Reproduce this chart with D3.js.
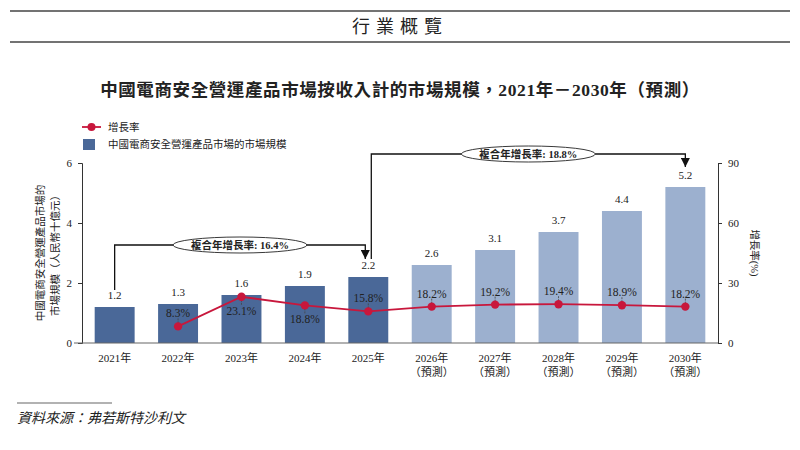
<!DOCTYPE html>
<html lang="zh-Hant">
  <head>
    <meta charset="utf-8">
    <script src="https://d3js.org/d3.v7.min.js"></script>
    <style>
      body {margin: 0; background: #fff;}
      text {font-family: "Liberation Serif", "Noto Sans CJK TC", serif; fill: #222;}
    </style>
  </head>
  <body>
    <script type="text/javascript">
      // chart data
      const years = ["2021年", "2022年", "2023年", "2024年", "2025年", "2026年", "2027年", "2028年", "2029年", "2030年"];
      const forecast = [false, false, false, false, false, true, true, true, true, true];
      const marketSize = [1.2, 1.3, 1.6, 1.9, 2.2, 2.6, 3.1, 3.7, 4.4, 5.2];
      const growthYears = ["2022年", "2023年", "2024年", "2025年", "2026年", "2027年", "2028年", "2029年", "2030年"];
      const growthRate = [8.3, 23.1, 18.8, 15.8, 18.2, 19.2, 19.4, 18.9, 18.2];
      const growthLabelBelow = [false, true, true, false, false, false, false, false, false];
      const leftTicks = [0, 2, 4, 6];
      const rightTicks = [0, 30, 60, 90];
      const cagrs = [
        {from: "2021年", to: "2025年", label: "複合年增長率: 16.4%"},
        {from: "2025年", to: "2030年", label: "複合年增長率: 18.8%"}
      ];

      const w = 800;
      const h = 450;
      const pLeft = 82, pRight = 718, pTop = 163, pBottom = 343;
      const darkBlue = "#4a6898";
      const lightBlue = "#9cb0cf";
      const red = "#c8173c";

      const svg = d3.select("body").append("svg")
          .attr("width", w)
          .attr("height", h);

      // header
      svg.append("line").attr("x1", 10).attr("x2", 790).attr("y1", 11).attr("y2", 11)
          .attr("stroke", "#444").attr("stroke-width", 1.3);
      svg.append("line").attr("x1", 10).attr("x2", 790).attr("y1", 42).attr("y2", 42)
          .attr("stroke", "#444").attr("stroke-width", 1.3);
      svg.append("text").attr("x", 400).attr("y", 33).attr("text-anchor", "middle")
          .style("font-size", "18px").style("letter-spacing", "6px")
          .text("行業概覽");

      // title
      svg.append("text").attr("x", 400).attr("y", 96).attr("text-anchor", "middle")
          .style("font-size", "17.5px").style("font-weight", "bold").style("letter-spacing", "0.6px")
          .text("中國電商安全營運產品市場按收入計的市場規模，2021年－2030年（預測）");

      // scales
      const x = d3.scaleBand().domain(years).range([pLeft, pRight]).paddingInner(0.37).paddingOuter(0.2);
      const yL = d3.scaleLinear().domain([0, 6]).range([pBottom, pTop]);
      const yR = d3.scaleLinear().domain([0, 90]).range([pBottom, pTop]);
      const cx = d => x(d) + x.bandwidth() / 2;

      // bars
      svg.selectAll("rect.bar")
          .data(marketSize)
          .enter()
          .append("rect")
          .attr("class", "bar")
          .attr("x", (d, i) => x(years[i]))
          .attr("y", d => yL(d))
          .attr("width", x.bandwidth())
          .attr("height", d => pBottom - yL(d))
          .attr("fill", (d, i) => forecast[i] ? lightBlue : darkBlue);

      svg.selectAll("text.val")
          .data(marketSize)
          .enter()
          .append("text")
          .attr("class", "val")
          .attr("x", (d, i) => cx(years[i]))
          .attr("y", d => yL(d) - 8)
          .attr("text-anchor", "middle")
          .style("font-size", "11px")
          .text(d => d.toFixed(1));

      // axes
      const axisL = svg.append("g").attr("transform", "translate(" + pLeft + ",0)")
          .call(d3.axisLeft(yL).tickValues(leftTicks).tickFormat(d3.format("d")).tickSize(4).tickPadding(6));
      const axisR = svg.append("g").attr("transform", "translate(" + pRight + ",0)")
          .call(d3.axisRight(yR).tickValues(rightTicks).tickFormat(d3.format("d")).tickSize(4).tickPadding(6));
      [axisL, axisR].forEach(function(g) {
        g.select(".domain").attr("stroke", "#333");
        g.selectAll(".tick line").attr("stroke", "#333");
        g.selectAll("text").style("font-size", "11px")
            .style("font-family", "'Liberation Serif', serif").attr("fill", "#222");
      });
      svg.append("line").attr("x1", 74).attr("x2", pRight).attr("y1", pBottom).attr("y2", pBottom)
          .attr("stroke", "#666").attr("stroke-width", 1.2);

      // x labels
      const xl = svg.selectAll("text.xl")
          .data(years)
          .enter()
          .append("text")
          .attr("class", "xl")
          .attr("x", d => cx(d))
          .attr("y", 362)
          .attr("text-anchor", "middle")
          .style("font-size", "11px");
      xl.append("tspan").attr("x", d => cx(d)).text(d => d);
      xl.filter((d, i) => forecast[i]).append("tspan")
          .attr("x", d => cx(d)).attr("dy", 14).text("（預測）");

      // growth line
      const line = d3.line()
          .x((d, i) => cx(growthYears[i]))
          .y(d => yR(d));
      svg.append("path").datum(growthRate)
          .attr("d", line)
          .attr("fill", "none")
          .attr("stroke", red)
          .attr("stroke-width", 1.8);

      // label ticks and labels
      svg.selectAll("line.gt")
          .data(growthRate)
          .enter()
          .append("line")
          .attr("class", "gt")
          .attr("x1", (d, i) => cx(growthYears[i]))
          .attr("x2", (d, i) => cx(growthYears[i]))
          .attr("y1", (d, i) => growthLabelBelow[i] ? yR(d) + 3 : yR(d) - 3)
          .attr("y2", (d, i) => growthLabelBelow[i] ? yR(d) + 8 : yR(d) - 8)
          .attr("stroke", "#444")
          .attr("stroke-width", 0.8)
          .attr("stroke-dasharray", "2,1");

      svg.selectAll("circle.gp")
          .data(growthRate)
          .enter()
          .append("circle")
          .attr("class", "gp")
          .attr("cx", (d, i) => cx(growthYears[i]))
          .attr("cy", d => yR(d))
          .attr("r", 4.2)
          .attr("fill", red);

      svg.selectAll("text.gl")
          .data(growthRate)
          .enter()
          .append("text")
          .attr("class", "gl")
          .attr("x", (d, i) => cx(growthYears[i]))
          .attr("y", (d, i) => growthLabelBelow[i] ? yR(d) + 18 : yR(d) - 9)
          .attr("text-anchor", "middle")
          .style("font-size", "11.5px")
          .text(d => d.toFixed(1) + "%");

      // CAGR brackets
      svg.append("defs").append("marker")
          .attr("id", "arrow")
          .attr("viewBox", "0 0 10 10")
          .attr("refX", 10).attr("refY", 5)
          .attr("markerWidth", 7).attr("markerHeight", 7)
          .attr("orient", "auto")
          .append("path").attr("d", "M0,0L10,5L0,10Z").attr("fill", "#111");

      const bracket = [
        {x1: cx(cagrs[0].from), y1: yL(1.2) - 17, yTop: 245, x2: cx(cagrs[0].to) - 3, y2: yL(2.2) - 18},
        {x1: cx(cagrs[1].from) + 3, y1: yL(2.2) - 18, yTop: 154, x2: cx(cagrs[1].to), y2: yL(5.2) - 20}
      ];
      bracket.forEach(function(b, i) {
        svg.append("path")
            .attr("d", "M" + b.x1 + "," + b.y1 + "V" + b.yTop + "H" + b.x2 + "V" + b.y2)
            .attr("fill", "none")
            .attr("stroke", "#111")
            .attr("stroke-width", 1.3)
            .attr("marker-end", "url(#arrow)");
        const mx = (b.x1 + b.x2) / 2;
        svg.append("ellipse")
            .attr("cx", mx).attr("cy", b.yTop)
            .attr("rx", 67).attr("ry", 8)
            .attr("fill", "#fff").attr("stroke", "#222").attr("stroke-width", 0.9);
        svg.append("text")
            .attr("x", mx).attr("y", b.yTop + 4)
            .attr("text-anchor", "middle")
            .style("font-size", "10.5px").style("font-weight", "bold")
            .text(cagrs[i].label);
      });

      // legend
      svg.append("line").attr("x1", 82).attr("x2", 101).attr("y1", 127).attr("y2", 127)
          .attr("stroke", red).attr("stroke-width", 1.8);
      svg.append("circle").attr("cx", 91.5).attr("cy", 127).attr("r", 4).attr("fill", red);
      svg.append("text").attr("x", 108).attr("y", 131).style("font-size", "10.5px").text("增長率");
      svg.append("rect").attr("x", 83).attr("y", 139).attr("width", 12).attr("height", 11).attr("fill", darkBlue);
      svg.append("text").attr("x", 108).attr("y", 148).style("font-size", "10.5px").text("中國電商安全營運產品市場的市場規模");

      // axis titles
      const lt = svg.append("text")
          .attr("transform", "translate(44,253) rotate(-90)")
          .attr("text-anchor", "middle")
          .style("font-size", "10.5px")
          .attr("fill", "#444");
      lt.append("tspan").attr("x", 0).attr("y", 0).text("中國電商安全營運產品市場的");
      lt.append("tspan").attr("x", 0).attr("y", 15).text("市場規模（人民幣十億元）");

      svg.append("text")
          .attr("transform", "translate(751,253) rotate(90)")
          .attr("text-anchor", "middle")
          .style("font-size", "10.5px")
          .attr("fill", "#444")
          .text("增長率(%)");

      // source
      svg.append("line").attr("x1", 17).attr("x2", 112).attr("y1", 403).attr("y2", 403)
          .attr("stroke", "#666").attr("stroke-width", 1.2);
      svg.append("text").attr("x", 17).attr("y", 423)
          .style("font-size", "14px").style("font-style", "italic").attr("fill", "#333")
          .text("資料來源：弗若斯特沙利文");
    </script>
  </body>
</html>
